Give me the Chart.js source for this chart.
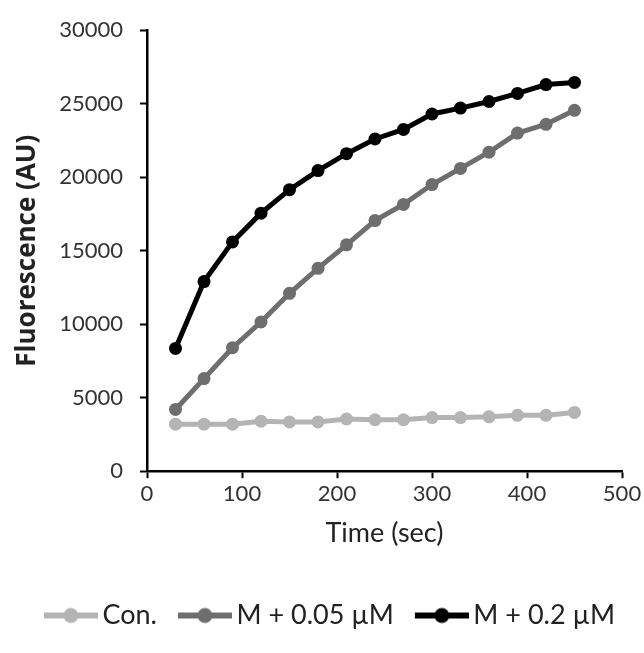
<!DOCTYPE html>
<html>
<head>
<meta charset="utf-8">
<script src="https://cdn.jsdelivr.net/npm/chart.js@4"></script>
<style>
  html, body { margin: 0; padding: 0; background: #fff; }
  #wrap { width: 644px; height: 653px; }
</style>
</head>
<body>
<div id="wrap"><canvas id="myChart" width="644" height="653"></canvas></div>
<script>
let times = [30, 60, 90, 120, 150, 180, 210, 240, 270, 300, 330, 360, 390, 420, 450];
let conValues = [3200, 3200, 3200, 3400, 3350, 3350, 3550, 3500, 3500, 3650, 3650, 3700, 3800, 3800, 4000];
let lowValues = [4200, 6300, 8400, 10150, 12100, 13800, 15400, 17050, 18150, 19500, 20600, 21700, 23000, 23600, 24550];
let highValues = [8350, 12900, 15600, 17550, 19150, 20450, 21600, 22600, 23250, 24300, 24700, 25150, 25700, 26300, 26450];
let seriesNames = ['Con.', 'M + 0.05 \u00b5M', 'M + 0.2 \u00b5M'];
let seriesColors = ['#b4b4b4', '#6e6e6e', '#000000'];

let fontName = 'Lato, "Open Sans", sans-serif';

function toPoints(values) {
  let pts = [];
  for (let i = 0; i < times.length; i++) {
    pts.push({ x: times[i], y: values[i] });
  }
  return pts;
}

// line-with-dot swatch for the legend, pushed right so it sits close to the text
function makeSwatch(color) {
  let c = document.createElement('canvas');
  c.width = 70;
  c.height = 18;
  let ctx = c.getContext('2d');
  ctx.strokeStyle = color;
  ctx.lineWidth = 6;
  ctx.beginPath();
  ctx.moveTo(16, 9);
  ctx.lineTo(70, 9);
  ctx.stroke();
  ctx.fillStyle = color;
  ctx.beginPath();
  ctx.arc(43, 9, 7.5, 0, Math.PI * 2);
  ctx.fill();
  return c;
}

let allValues = [conValues, lowValues, highValues];
let datasets = [];
for (let i = 0; i < allValues.length; i++) {
  datasets.push({
    label: seriesNames[i],
    data: toPoints(allValues[i]),
    borderColor: seriesColors[i],
    backgroundColor: seriesColors[i],
    borderWidth: 5,
    pointRadius: 6.5,
    pointHoverRadius: 6.5,
    pointBorderWidth: 0,
    tension: 0
  });
}

const config = {
  type: 'line',
  data: { datasets: datasets },
  options: {
    responsive: false,
    animation: false,
    layout: { padding: { top: 16, right: 0, left: 8, bottom: 14 } },
    plugins: {
      tooltip: { enabled: false },
      legend: {
        position: 'bottom',
        labels: {
          color: '#222',
          font: { family: fontName, size: 27 },
          usePointStyle: true,
          pointStyleWidth: 52,
          boxHeight: 18,
          padding: 14,
          generateLabels: function (chart) {
            let items = Chart.defaults.plugins.legend.labels.generateLabels(chart);
            for (let i = 0; i < items.length; i++) {
              items[i].pointStyle = makeSwatch(seriesColors[i]);
            }
            return items;
          }
        }
      }
    },
    scales: {
      x: {
        type: 'linear',
        min: 0,
        max: 500,
        afterFit: function (scale) { scale.paddingRight = 22; },
        ticks: { stepSize: 100, color: '#333', font: { family: fontName, size: 22 }, padding: 3,
          callback: function (v) { return String(v); } },
        grid: { drawOnChartArea: false, color: '#000', tickLength: 7, tickWidth: 2 },
        border: { color: '#000', width: 2.5 },
        title: { display: true, text: 'Time (sec)', color: '#222', font: { family: fontName, size: 27 }, padding: { top: 6, bottom: 39 } }
      },
      y: {
        min: 0,
        max: 30000,
        afterFit: function (scale) { scale.width = 139; },
        ticks: { stepSize: 5000, color: '#333', font: { family: fontName, size: 22 }, padding: 17,
          callback: function (v) { return String(v); } },
        grid: { drawOnChartArea: false, color: '#000', tickLength: 7, tickWidth: 2 },
        border: { color: '#000', width: 2.5 },
        title: { display: true, text: 'Fluorescence (AU)', color: '#222', font: { family: '"Open Sans", sans-serif', size: 26, weight: 'bold' }, padding: { bottom: 0 } }
      }
    }
  }
};

let canvasChart = document.getElementById('myChart');
new Chart(canvasChart, config);
</script>
</body>
</html>
